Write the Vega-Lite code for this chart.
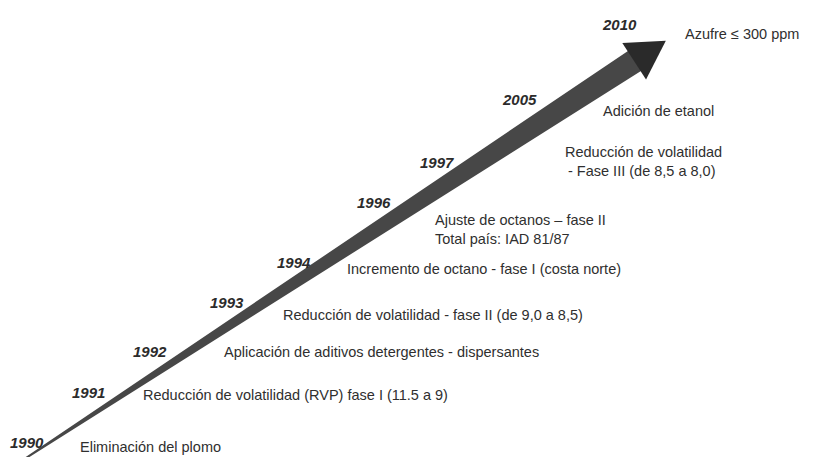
{
  "$schema": "https://vega.github.io/schema/vega-lite/v6.json",
  "width": 823,
  "height": 457,
  "autosize": {"type": "fit", "contains": "padding"},
  "padding": 0,
  "background": "white",
  "config": {"view": {"stroke": null}},
  "datasets": {
    "arrow": [
      {"x": 26, "y": 458, "t": 0},
      {"x": 636, "y": 60, "t": 1}
    ],
    "head": [
      {"x": 650, "y": 51}
    ],
    "years": [
      {"label": "1990", "x": 10, "y": 443},
      {"label": "1991", "x": 72, "y": 393},
      {"label": "1992", "x": 133, "y": 352},
      {"label": "1993", "x": 210, "y": 303},
      {"label": "1994", "x": 277, "y": 263},
      {"label": "1996", "x": 357, "y": 203},
      {"label": "1997", "x": 420, "y": 163},
      {"label": "2005", "x": 503, "y": 100},
      {"label": "2010", "x": 603, "y": 25}
    ],
    "events": [
      {"x": 80, "y": 448, "text": "Eliminación del plomo"},
      {"x": 143, "y": 396, "text": "Reducción de volatilidad  (RVP) fase I (11.5 a 9)"},
      {"x": 224, "y": 353, "text": "Aplicación de aditivos detergentes - dispersantes"},
      {"x": 283, "y": 316, "text": "Reducción de volatilidad - fase II (de 9,0 a 8,5)"},
      {"x": 347, "y": 270, "text": "Incremento de octano - fase I (costa norte)"},
      {"x": 435, "y": 221, "text": "Ajuste de octanos – fase II"},
      {"x": 435, "y": 240, "text": "Total país:  IAD 81/87"},
      {"x": 565, "y": 153, "text": "Reducción de volatilidad"},
      {"x": 568, "y": 172, "text": "- Fase III (de 8,5  a 8,0)"},
      {"x": 603, "y": 112, "text": "Adición de etanol"},
      {"x": 685, "y": 35, "text": "Azufre ≤ 300 ppm"}
    ]
  },
  "encoding": {
    "x": {"field": "x", "type": "quantitative", "scale": {"domain": [0, 823], "nice": false, "zero": false}, "axis": null},
    "y": {"field": "y", "type": "quantitative", "scale": {"domain": [0, 457], "reverse": true, "nice": false, "zero": false}, "axis": null}
  },
  "layer": [
    {
      "data": {"name": "arrow"},
      "mark": {"type": "trail", "color": "#333333", "opacity": 0.9, "clip": true},
      "encoding": {
        "order": {"field": "t", "type": "quantitative"},
        "size": {"field": "t", "type": "quantitative", "scale": {"domain": [0, 1], "range": [2, 24]}, "legend": null}
      }
    },
    {
      "data": {"name": "head"},
      "mark": {"type": "point", "shape": "triangle-right", "filled": true, "color": "#2a2a2a", "opacity": 1, "size": 1900, "angle": 327}
    },
    {
      "data": {"name": "years"},
      "mark": {"type": "text", "align": "left", "baseline": "middle", "font": "Liberation Sans", "fontSize": 15, "fontStyle": "italic", "fontWeight": "bold", "color": "#2b2b2b"},
      "encoding": {"text": {"field": "label"}}
    },
    {
      "data": {"name": "events"},
      "mark": {"type": "text", "align": "left", "baseline": "middle", "font": "Liberation Sans", "fontSize": 14.5, "color": "#2f2f2f"},
      "encoding": {"text": {"field": "text"}}
    }
  ]
}
